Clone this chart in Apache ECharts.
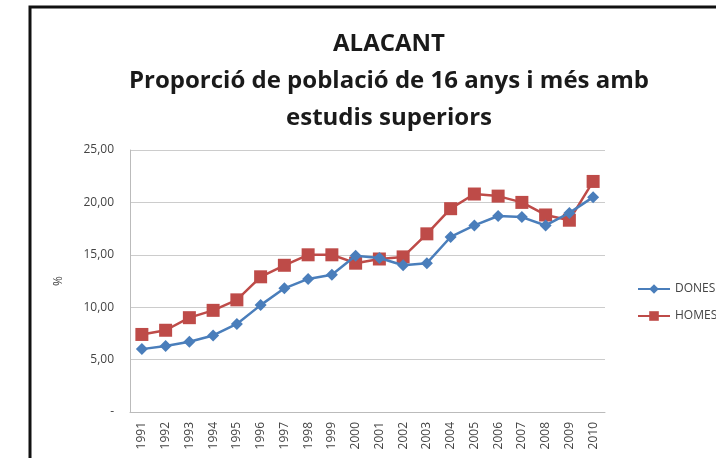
<!DOCTYPE html>
<html>
<head>
    <meta charset="utf-8">
    <script src="https://cdn.jsdelivr.net/npm/echarts@6/dist/echarts.min.js"></script>
    <style>
        html, body { margin: 0; padding: 0; background: #fff; }
        #main { width: 716px; height: 458px; }
    </style>
</head>
<body>
    <div id="main"></div>
    <script>
        // dades llegides del gràfic
        var anys = ['1991', '1992', '1993', '1994', '1995', '1996', '1997', '1998', '1999', '2000',
                    '2001', '2002', '2003', '2004', '2005', '2006', '2007', '2008', '2009', '2010'];
        var dones = [6.0, 6.3, 6.7, 7.3, 8.4, 10.2, 11.8, 12.7, 13.1, 14.9,
                     14.7, 14.0, 14.2, 16.7, 17.8, 18.7, 18.6, 17.8, 19.0, 20.5];
        var homes = [7.4, 7.8, 9.0, 9.7, 10.7, 12.9, 14.0, 15.0, 15.0, 14.2,
                     14.6, 14.8, 17.0, 19.4, 20.8, 20.6, 20.0, 18.8, 18.3, 22.0];

        var myChart = echarts.init(document.getElementById('main'));

        var option = {
            animation: false,
            backgroundColor: '#fff',
            title: {
                text: 'ALACANT\nProporció de població de 16 anys i més amb\nestudis superiors',
                left: 384,
                textAlign: 'center',
                top: 21,
                textStyle: {
                    fontFamily: 'Open Sans',
                    fontWeight: 'bold',
                    fontSize: 24,
                    lineHeight: 37,
                    color: '#1a1a1a'
                }
            },
            graphic: [{
                type: 'rect',
                shape: { x: 30, y: 7, width: 720, height: 480 },
                style: { fill: 'none', stroke: '#111', lineWidth: 3 },
                silent: true
            }],
            legend: {
                orient: 'vertical',
                left: 632,
                top: 278,
                itemGap: 15,
                itemWidth: 32,
                itemHeight: 12,
                textStyle: { fontFamily: 'Open Sans', fontSize: 12, color: '#444' },
                data: ['DONES', 'HOMES']
            },
            grid: {
                left: 130,
                right: 111,
                top: 150,
                bottom: 46
            },
            xAxis: {
                type: 'category',
                data: anys,
                boundaryGap: true,
                axisLine: { lineStyle: { color: '#bbb' } },
                axisTick: { show: false },
                axisLabel: {
                    rotate: 90,
                    interval: 0,
                    fontFamily: 'Open Sans',
                    fontSize: 12,
                    color: '#444',
                    margin: 10
                }
            },
            yAxis: {
                type: 'value',
                min: 0,
                max: 25,
                interval: 5,
                name: '%',
                nameLocation: 'middle',
                nameGap: 65,
                nameRotate: 90,
                nameTextStyle: { fontFamily: 'Open Sans', fontSize: 12, color: '#444' },
                axisLine: { show: true, lineStyle: { color: '#bbb' } },
                axisTick: { show: false },
                splitLine: { lineStyle: { color: '#ccc' } },
                axisLabel: {
                    fontFamily: 'Open Sans',
                    fontSize: 12,
                    color: '#444',
                    margin: 16,
                    formatter: function (v) {
                        return v === 0 ? '-' : v.toFixed(2).replace('.', ',');
                    }
                }
            },
            series: [{
                name: 'DONES',
                type: 'line',
                data: dones,
                symbol: 'diamond',
                symbolSize: 12,
                itemStyle: { color: '#4a7ebb' },
                lineStyle: { width: 2.5, color: '#4a7ebb' },
                z: 3
            }, {
                name: 'HOMES',
                type: 'line',
                data: homes,
                symbol: 'rect',
                symbolSize: 13,
                itemStyle: { color: '#be4b48' },
                lineStyle: { width: 2.5, color: '#be4b48' },
                z: 2
            }]
        };
        myChart.setOption(option);
    </script>
</body>
</html>
